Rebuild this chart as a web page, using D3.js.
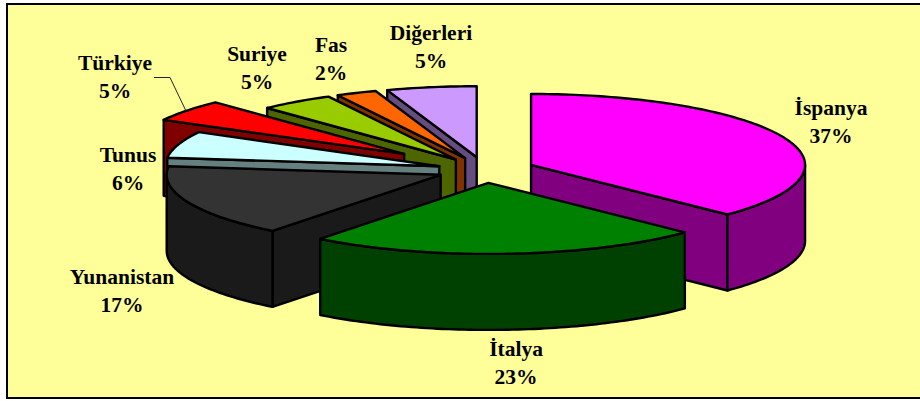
<!DOCTYPE html>
<html><head><meta charset="utf-8">
<script src="https://cdn.jsdelivr.net/npm/d3@7"></script>
<style>html,body{margin:0;padding:0;background:#fff}svg{display:block}
text{font-family:"Liberation Serif",serif;font-weight:bold;font-size:21.5px;fill:#000;text-anchor:middle}</style>
</head><body><svg id="c" width="920" height="401"></svg>
<script>
const categories = ["İspanya","İtalya","Yunanistan","Tunus","Türkiye","Suriye","Fas","Diğerleri"];
const values = [37.3,23.25,16.4,6.05,4.95,4.4,2.4,5.3];
const percentLabels = ["37%","23%","17%","6%","5%","5%","2%","5%"];
const topColors = ["#FF00FF","#008000","#333333","#CCFFFF","#FF0000","#99CC00","#FF6600","#CC99FF"];
const sideColors = ["#800080","#004000","#1A1A1A","#668080","#800000","#4D6600","#803300","#664D80"];
const drawOrder = ["Diğerleri","Fas","Suriye","Türkiye","Tunus","Yunanistan","İspanya","İtalya"];

const W=920,H=401;
const cx=485,cy=170,rx=274,ry=71,depth=76;
const explode=c=>({"Türkiye":102,"Yunanistan":48,"Tunus":48}[c]||50);
const labelPos={"İspanya":[831,115],"İtalya":[516,356],"Yunanistan":[122,284],"Tunus":[128,162],
  "Türkiye":[115,70],"Suriye":[257,61],"Fas":[331,52],"Diğerleri":[431,40]};

const svg=d3.select("#c");
svg.append("rect").attr("x",7).attr("y",4).attr("width",W).attr("height",394)
  .attr("fill","#FFFF99").attr("stroke","#000").attr("stroke-width",2);

const x=d3.scaleLinear().domain([-1,1]).range([cx-rx,cx+rx]);
const y=d3.scaleLinear().domain([-1,1]).range([cy-ry,cy+ry]);
const pie=d3.pie().sort(null).value(d=>d.v);
const rows=categories.map((c,i)=>({c,v:values[i],top:topColors[i],side:sideColors[i],pct:percentLabels[i]}));
const arcs=pie(rows);
const line=d3.line();
const pt=(o,a,dz=0)=>[x(o.e*Math.sin(o.m)/rx+Math.sin(a)),y(-o.e*Math.cos(o.m)/rx-Math.cos(a))+dz];
const apex=(o,dz=0)=>[x(o.e*Math.sin(o.m)/rx),y(-o.e*Math.cos(o.m)/rx)+dz];
const samples=(a0,a1)=>{const n=Math.max(2,Math.ceil((a1-a0)/0.02));return d3.range(n+1).map(i=>a0+(a1-a0)*i/n);};
const sg=svg.append("g").attr("stroke","#000").attr("stroke-width",2.4).attr("stroke-linejoin","round");

drawOrder.forEach(name=>{
  const d=arcs.find(a=>a.data.c===name);
  const o={e:explode(name),m:(d.startAngle+d.endAngle)/2};
  const a0=d.startAngle,a1=d.endAngle;
  const g=sg.append("g");
  const radial=a=>[apex(o),pt(o,a),pt(o,a,depth),apex(o,depth)];
  if(a0>Math.PI&&a0<2*Math.PI) g.append("path").attr("d",line(radial(a0))+"Z").attr("fill",d.data.side);
  if(a1>0&&a1<Math.PI) g.append("path").attr("d",line(radial(a1))+"Z").attr("fill",d.data.side);
  const w0=Math.max(a0,Math.PI/2),w1=Math.min(a1,Math.PI*1.5);
  if(w1>w0){
    const s=samples(w0,w1);
    const pts=s.map(a=>pt(o,a)).concat(s.slice().reverse().map(a=>pt(o,a,depth)));
    g.append("path").attr("d",line(pts)+"Z").attr("fill",d.data.side);
  }
  const tp=[apex(o)].concat(samples(a0,a1).map(a=>pt(o,a)));
  g.append("path").attr("d",line(tp)+"Z").attr("fill",d.data.top);
});

svg.append("path").attr("d",line([[154,77.5],[170,77.5],[186,111]]))
  .attr("fill","none").attr("stroke","#222").attr("stroke-width",1);

rows.forEach(r=>{
  const [lx,ly]=labelPos[r.c];
  svg.append("text").attr("x",lx).attr("y",ly).text(r.c);
  svg.append("text").attr("x",lx).attr("y",ly+28).text(r.pct);
});
</script></body></html>
